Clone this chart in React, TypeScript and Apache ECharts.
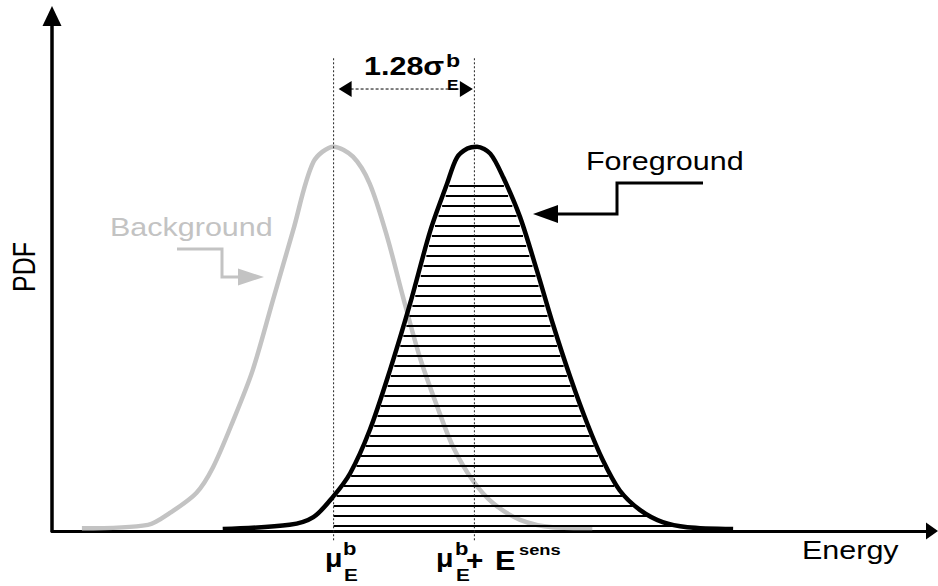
import React, { useEffect, useRef } from "react";
import * as echarts from "echarts";

// Energy (x) and PDF (y) values
const BG_X = [3.4, 10.9, 13.4, 16.4, 18.3, 20.6, 22.8, 25.1, 27.4, 29.7, 32, 34.2, 36.1, 38.1, 39.9, 41.8, 43.8, 45.6, 47.8, 50.1, 53.2, 56.9, 61.4];
const BG_Y = [0.7, 1.6, 4.7, 9.9, 16.6, 28.8, 41.8, 60.0, 78.2, 96, 100, 97.4, 90.4, 76.4, 60.8, 45.2, 32.2, 21.8, 13.2, 7.3, 2.9, 1.0, 0.8];
const FG_X = [19.4, 27.0, 29.7, 31.9, 33.9, 36.1, 38.4, 40.7, 43.0, 44.9, 46.0, 47.2, 48.3, 49.8, 51.3, 53.2, 55.1, 56.9, 58.9, 60.8, 62.6, 64.5, 66.8, 69.4, 72.2, 77.4];
const FG_Y = [0.5, 1.6, 3.6, 8.8, 15.1, 26.2, 41.8, 59.2, 78.2, 90.4, 97.1, 99.5, 100, 98.2, 91.9, 81.6, 67.8, 54.0, 40.0, 28.1, 18.4, 10.6, 5.5, 2.3, 1.0, 0.5];
const MU = 32;
const MU_SENS = 48;
const X_RANGE = [0, 100];
const Y_RANGE = [0, 134];
const GUIDE_TOP = 123;
const DIM_Y = 115;

const FONT = '"Liberation Sans", Arial, Helvetica, sans-serif';
const GREY = "#c3c3c3";

function txt(text: string, x: number, base: number, size: number, o: any = {}) {
  return {
    type: "text",
    x,
    y: base - 0.35 * size,
    scaleX: o.scaleX ?? 1.22,
    scaleY: o.scaleY ?? 1,
    z: 100,
    style: {
      text,
      fontSize: size,
      fontFamily: FONT,
      fontWeight: o.bold ? "bold" : "normal",
      fill: o.fill ?? "#000",
      align: "left",
      verticalAlign: "middle",
      textAlign: "left",
      textVerticalAlign: "middle",
    },
  };
}

export default function App() {
  const ref = useRef<HTMLDivElement>(null);
  useEffect(() => {
    if (!ref.current) return;
    const chart = echarts.init(ref.current, null, { renderer: "svg" });
    const bg = BG_X.map((x, i) => [x, BG_Y[i]]);
    const fg = FG_X.map((x, i) => [x, FG_Y[i]]);

    const renderOverlay = (_params: any, api: any) => {
      const pts = fg.map((p) => api.coord(p));
      const base = api.coord([X_RANGE[0], 0]);
      const muTop = api.coord([MU, GUIDE_TOP]);
      const mu2Top = api.coord([MU_SENS, GUIDE_TOP]);
      const dimL = api.coord([MU, DIM_Y]);
      const dimR = api.coord([MU_SENS, DIM_Y]);
      const children: any[] = [];
      // hatching
      for (let k = 0; k < 35; k++) {
        const py = Math.round(base[1]) - 5 - 10 * k;
        const xs: number[] = [];
        for (let i = 0; i < pts.length - 1; i++) {
          const [x1, y1] = pts[i];
          const [x2, y2] = pts[i + 1];
          if ((y1 - py) * (y2 - py) <= 0 && y1 !== y2) {
            xs.push(x1 + ((py - y1) / (y2 - y1)) * (x2 - x1));
          }
        }
        if (xs.length < 2) continue;
        const left = Math.max(Math.min(...xs) + 3, muTop[0]);
        const right = Math.max(...xs) - 3;
        if (right <= left) continue;
        children.push({
          type: "line",
          shape: { x1: left, y1: py, x2: right, y2: py },
          style: { stroke: "#000", lineWidth: 2 },
        });
      }
      // dotted guides
      [muTop, mu2Top].forEach((p) => {
        children.push({
          type: "line",
          shape: { x1: p[0], y1: p[1], x2: p[0], y2: base[1] + 11 },
          style: { stroke: "#222", lineWidth: 1, lineDash: [2, 2] },
        });
      });
      // dimension arrow
      const ly = dimL[1];
      const l = dimL[0] + 5;
      const r = dimR[0] - 1.5;
      children.push({
        type: "line",
        shape: { x1: l + 12, y1: ly, x2: r - 12, y2: ly },
        style: { stroke: "#000", lineWidth: 1, lineDash: [3, 2] },
      });
      children.push({
        type: "polygon",
        shape: { points: [[l, ly], [l + 13, ly - 8], [l + 13, ly + 8]] },
        style: { fill: "#000" },
      });
      children.push({
        type: "polygon",
        shape: { points: [[r, ly], [r - 13, ly - 8], [r - 13, ly + 8]] },
        style: { fill: "#000" },
      });
      return { type: "group", children };
    };

    chart.setOption({
      animation: false,
      grid: { left: 52, right: 6, top: 16, bottom: 55, containLabel: false },
      xAxis: {
        type: "value",
        min: X_RANGE[0],
        max: X_RANGE[1],
        axisLine: {
          show: true,
          onZero: false,
          symbol: ["none", "triangle"],
          symbolSize: [17, 12],
          lineStyle: { color: "#000", width: 3 },
        },
        axisTick: { show: false },
        axisLabel: { show: false },
        splitLine: { show: false },
      },
      yAxis: {
        type: "value",
        min: Y_RANGE[0],
        max: Y_RANGE[1],
        axisLine: {
          show: true,
          onZero: false,
          symbol: ["none", "triangle"],
          symbolSize: [19, 20],
          lineStyle: { color: "#000", width: 3.5 },
        },
        axisTick: { show: false },
        axisLabel: { show: false },
        splitLine: { show: false },
      },
      series: [
        {
          name: "Background",
          type: "line",
          data: bg,
          smooth: 0.3,
          symbol: "none",
          lineStyle: { color: GREY, width: 4.5 },
          z: 2,
        },
        {
          type: "custom",
          coordinateSystem: "cartesian2d",
          data: [[0, 0]],
          encode: { x: 0, y: 1 },
          clip: false,
          renderItem: renderOverlay,
          z: 3,
        },
        {
          name: "Foreground",
          type: "line",
          data: fg,
          smooth: 0.3,
          symbol: "none",
          lineStyle: { color: "#000", width: 4.5 },
          z: 4,
        },
      ],
      graphic: [
        txt("Foreground", 586, 170, 25),
        txt("Background", 110, 236, 25, { fill: GREY }),
        txt("Energy", 802, 559, 25),
        {
          type: "text",
          x: 24,
          y: 267,
          rotation: Math.PI / 2,
          scaleY: 1.25,
          style: {
            text: "PDF",
            fontSize: 25,
            fontFamily: FONT,
            fill: "#000",
            align: "center",
            verticalAlign: "middle",
            textAlign: "center",
            textVerticalAlign: "middle",
          },
        },
        txt("1.28σ", 364, 75, 25, { bold: true }),
        txt("b", 446, 66.7, 19, { bold: true }),
        txt("E", 447, 90, 14, { bold: true }),
        txt("μ", 325, 567, 26, { bold: true, scaleX: 1.1 }),
        txt("b", 343, 555, 18, { bold: true }),
        txt("E", 344, 581, 17, { bold: true }),
        txt("μ", 436, 567, 26, { bold: true, scaleX: 1.1 }),
        txt("b", 455, 555, 18, { bold: true }),
        txt("E", 456, 581, 17, { bold: true }),
        txt("+", 466, 570, 27, { bold: true, scaleX: 1.1 }),
        txt("E", 495, 570, 28, { bold: true, scaleX: 1.1 }),
        txt("sens", 519, 555, 15, { bold: true }),
        {
          type: "polyline",
          shape: { points: [[177, 249], [222, 249], [222, 277], [240, 277]] },
          style: { stroke: GREY, lineWidth: 3, fill: null },
        },
        {
          type: "polygon",
          shape: { points: [[238, 268.5], [264, 277], [238, 285.5]] },
          style: { fill: GREY },
        },
        {
          type: "polyline",
          shape: { points: [[703, 183], [617, 183], [617, 214], [556, 214]] },
          style: { stroke: "#000", lineWidth: 3, fill: null },
        },
        {
          type: "polygon",
          shape: { points: [[558, 205], [533, 214], [558, 223]] },
          style: { fill: "#000" },
        },
      ],
    });
    return () => chart.dispose();
  }, []);
  return (
    <div
      ref={ref}
      style={{ position: "fixed", left: 0, top: 0, width: 938, height: 586, background: "#fff" }}
    />
  );
}
